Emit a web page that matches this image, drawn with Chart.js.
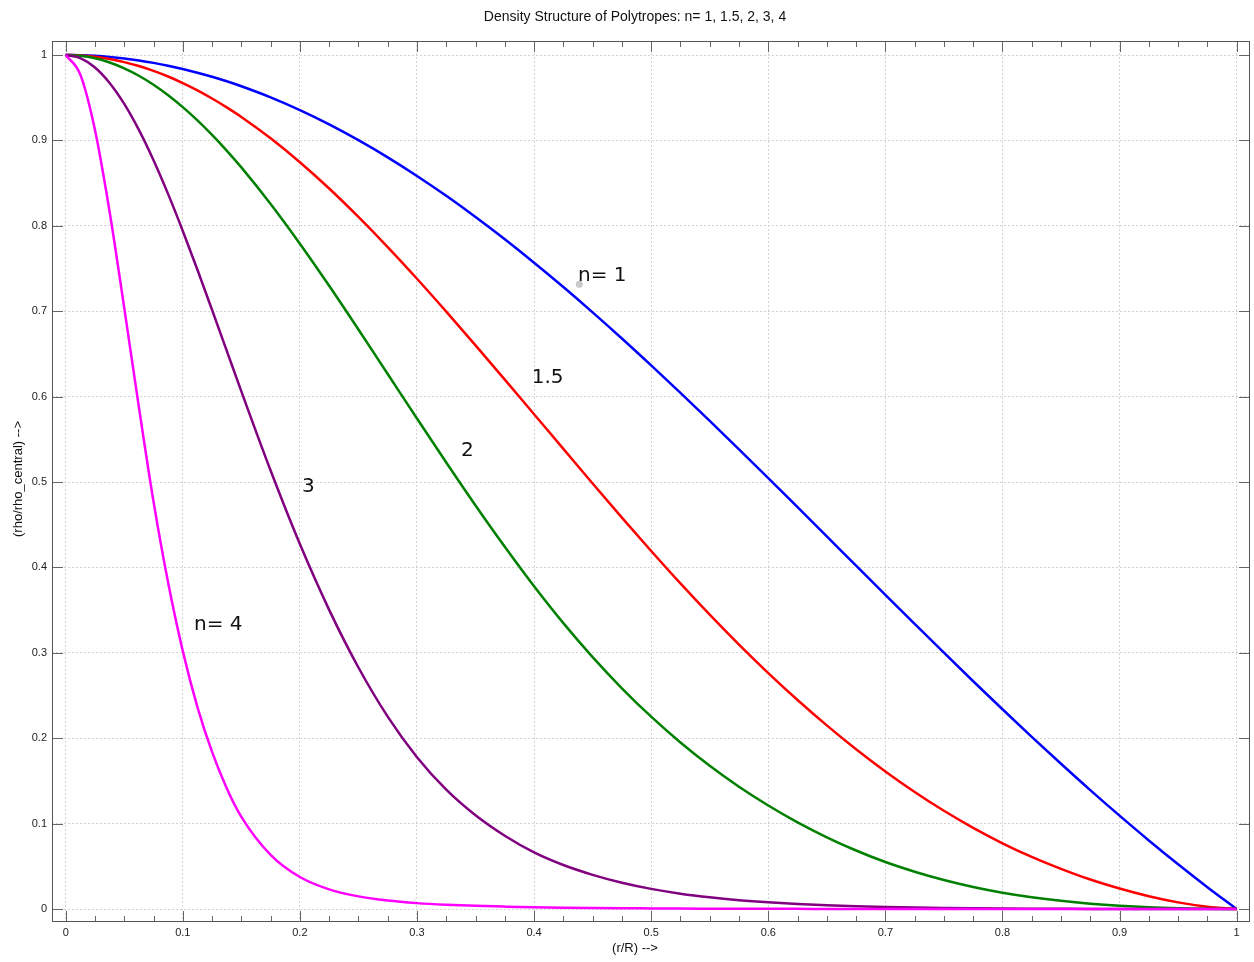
<!DOCTYPE html>
<html>
<head>
<meta charset="utf-8">
<title>Density Structure of Polytropes</title>
<script src="https://cdn.jsdelivr.net/npm/chart.js@4.4.1/dist/chart.umd.min.js"></script>
<style>
  html, body { margin: 0; padding: 0; background: #fff; }
  canvas { display: block; }
</style>
</head>
<body>
<canvas id="densityChart" width="1254" height="962"></canvas>
<script>

// r/R sample points (finer near the centre where n=3,4 drop fast)
const radius = [0, 0.0125, 0.025, 0.0375, 0.05, 0.0625, 0.075, 0.0875, 0.1, 0.1125, 0.125, 0.1375, 0.15,
    0.175, 0.2, 0.225, 0.25, 0.275, 0.3, 0.325, 0.35, 0.375, 0.4, 0.425, 0.45, 0.475, 0.5,
    0.525, 0.55, 0.575, 0.6, 0.625, 0.65, 0.675, 0.7, 0.725, 0.75, 0.775, 0.8, 0.825, 0.85,
    0.875, 0.9, 0.925, 0.95, 0.975, 1];

// rho / rho_central
const rhoN1 = [1, 0.9997, 0.999, 0.9977, 0.9959, 0.9936, 0.9908, 0.9875, 0.9836, 0.9793, 0.9745, 0.9692, 0.9634,
    0.9504, 0.9355, 0.9188, 0.9003, 0.8802, 0.8584, 0.8351, 0.8103, 0.7842, 0.7568, 0.7283, 0.6987, 0.6681, 0.6366,
    0.6044, 0.5716, 0.5383, 0.5046, 0.4705, 0.4363, 0.4021, 0.3679, 0.3339, 0.3001, 0.2667, 0.2339, 0.2016, 0.1701,
    0.1392, 0.1093, 0.0803, 0.0524, 0.0256, 0];
const rhoN15 = [1, 0.9995, 0.9979, 0.9953, 0.9917, 0.9871, 0.9814, 0.9748, 0.9671, 0.9586, 0.9491, 0.9387, 0.9275,
    0.9025, 0.8745, 0.8437, 0.8104, 0.7751, 0.738, 0.6995, 0.66, 0.6199, 0.5794, 0.5388, 0.4983, 0.4583, 0.4192,
    0.3812, 0.3446, 0.3096, 0.2763, 0.2448, 0.215, 0.187, 0.161, 0.137, 0.115, 0.095, 0.077, 0.061, 0.047,
    0.0345, 0.024, 0.015, 0.0078, 0.0027, 0];
const rhoN2 = [1, 0.999, 0.9961, 0.9912, 0.9844, 0.9757, 0.9652, 0.9529, 0.939, 0.9235, 0.9065, 0.8881, 0.8684,
    0.8256, 0.7791, 0.7298, 0.6786, 0.6265, 0.5744, 0.5229, 0.4726, 0.4242, 0.378, 0.3348, 0.295, 0.2585, 0.2252,
    0.195, 0.1677, 0.1432, 0.1212, 0.1015, 0.084, 0.0685, 0.055, 0.0437, 0.034, 0.0258, 0.0191, 0.0138, 0.0096,
    0.0063, 0.0038, 0.002, 0.0009, 0.0002, 0];
const rhoN3 = [1, 0.9963, 0.9853, 0.9672, 0.9427, 0.9123, 0.8768, 0.8371, 0.794, 0.7485, 0.7015, 0.6538, 0.6061,
    0.5134, 0.4273, 0.3503, 0.2828, 0.2253, 0.1778, 0.1398, 0.1098, 0.0858, 0.0663, 0.0515, 0.04, 0.0308, 0.0236,
    0.018, 0.0137, 0.0104, 0.0079, 0.006, 0.0045, 0.0033, 0.0024, 0.0017, 0.0012, 0.0008, 0.0005, 0.0003, 0.0002,
    0.0001, 0.0001, 0, 0, 0, 0];
const rhoN4 = [1, 0.977, 0.9122, 0.8165, 0.7039, 0.5877, 0.477, 0.382, 0.302, 0.2365, 0.184, 0.1415, 0.108,
    0.0635, 0.0375, 0.023, 0.0148, 0.0099, 0.0069, 0.005, 0.0037, 0.0028, 0.0021, 0.0016, 0.0012, 0.0009, 0.0007,
    0.0005, 0.0004, 0.0003, 0.0002, 0.0002, 0.0001, 0.0001, 0.0001, 0, 0, 0, 0, 0, 0,
    0, 0, 0, 0, 0, 0];

const tickValues = [0, 0.1, 0.2, 0.3, 0.4, 0.5, 0.6, 0.7, 0.8, 0.9, 1];

// text labels placed next to the curves (left edge / baseline, data units)
const curveLabels = ["n= 1", "1.5", "2", "3", "n= 4"];
const labelX = [0.4375, 0.398, 0.3376, 0.2018, 0.1096];
const labelY = [0.7354, 0.616, 0.5304, 0.4883, 0.3267];

// the stray grey marker next to "n= 1"
const markerX = [0.4386];
const markerY = [0.7315];

const chartTitle = "Density Structure of Polytropes: n= 1, 1.5, 2, 3, 4";
const xTitle = "(r/R) -->";
const yTitle = "(rho/rho_central) -->";

const toPoints = (ys) => ys.map((v, i) => ({ x: radius[i], y: v }));

const tickFont = '"Liberation Sans", Arial, sans-serif';

const frameAndLabels = {
    id: "frameAndLabels",
    afterDraw(chart) {
        const { ctx, chartArea: a } = chart;
        const x = chart.scales.x;
        const y = chart.scales.y;

        ctx.save();

        // ticks on all four sides
        ctx.strokeStyle = "#666";
        ctx.lineWidth = 1;
        ctx.beginPath();
        for (let i = 0; i <= 40; i++) {
            const px = Math.round(x.getPixelForValue(i / 40)) + 0.5;
            const len = i % 4 === 0 ? 11 : 6;
            ctx.moveTo(px, a.bottom);
            ctx.lineTo(px, a.bottom - len);
            ctx.moveTo(px, a.top);
            ctx.lineTo(px, a.top + len);
        }
        tickValues.forEach(v => {
            const py = Math.round(y.getPixelForValue(v)) + 0.5;
            ctx.moveTo(a.left, py);
            ctx.lineTo(a.left + 11, py);
            ctx.moveTo(a.right, py);
            ctx.lineTo(a.right - 11, py);
        });
        ctx.stroke();

        // box
        ctx.strokeStyle = "#555";
        ctx.strokeRect(a.left + 0.5, a.top + 0.5, a.right - a.left - 1, a.bottom - a.top - 1);

        // curve labels
        ctx.fillStyle = "#111";
        ctx.font = '20px "DejaVu Sans", sans-serif';
        ctx.textAlign = "left";
        ctx.textBaseline = "alphabetic";
        curveLabels.forEach((t, i) => {
            ctx.fillText(t, x.getPixelForValue(labelX[i]), y.getPixelForValue(labelY[i]));
        });

        // titles
        ctx.fillStyle = "#111";
        ctx.textAlign = "center";
        ctx.font = "14px " + tickFont;
        ctx.fillText(chartTitle, 635, 21);

        ctx.font = "13px " + tickFont;
        ctx.textBaseline = "middle";
        ctx.fillText(xTitle, 635, 948);

        ctx.translate(18, 479);
        ctx.rotate(-Math.PI / 2);
        ctx.fillText(yTitle, 0, 0);

        ctx.restore();
    }
};

const fmt = (v) => (v === 0 || v === 1) ? String(v) : v.toFixed(1);

const ctx = document.getElementById("densityChart");

new Chart(ctx, {
    type: "line",
    data: {
        datasets: [
            { label: "n=1", data: toPoints(rhoN1), borderColor: "#0000ff", order: 4 },
            { label: "n=1.5", data: toPoints(rhoN15), borderColor: "#ff0000", order: 3 },
            { label: "n=2", data: toPoints(rhoN2), borderColor: "#008000", order: 2 },
            { label: "n=3", data: toPoints(rhoN3), borderColor: "#800080", order: 1 },
            { label: "n=4", data: toPoints(rhoN4), borderColor: "#ff00ff", order: 0 },
            {
                label: "marker",
                data: markerX.map((v, i) => ({ x: v, y: markerY[i] })),
                showLine: false,
                pointRadius: 3.5,
                pointBorderWidth: 0,
                pointBackgroundColor: "#c8cac8",
                order: 5
            }
        ]
    },
    options: {
        responsive: false,
        animation: false,
        devicePixelRatio: 1,
        layout: { padding: { top: 41, right: 4, left: 0, bottom: 0 } },
        elements: {
            point: { radius: 0 },
            line: { borderWidth: 2.5, cubicInterpolationMode: "monotone", borderJoinStyle: "round", fill: false }
        },
        plugins: {
            legend: { display: false },
            tooltip: { enabled: false },
            title: { display: false }
        },
        scales: {
            x: {
                type: "linear",
                min: -0.0117,
                max: 1.0114,
                afterBuildTicks: s => { s.ticks = tickValues.map(v => ({ value: v })); },
                afterFit: s => { s.height = 40; },
                grid: { color: "#d4d4d4", lineWidth: 1, drawTicks: false },
                border: { display: false, dash: [2, 2] },
                ticks: {
                    padding: 4,
                    color: "#222",
                    font: { family: tickFont, size: 11 },
                    maxRotation: 0,
                    autoSkip: false,
                    callback: v => fmt(v)
                }
            },
            y: {
                type: "linear",
                min: -0.0152,
                max: 1.0164,
                afterBuildTicks: s => { s.ticks = tickValues.map(v => ({ value: v })); },
                afterFit: s => { s.width = 52; },
                grid: { color: "#d4d4d4", lineWidth: 1, drawTicks: false },
                border: { display: false, dash: [2, 2] },
                ticks: {
                    padding: 5,
                    color: "#222",
                    font: { family: tickFont, size: 11 },
                    autoSkip: false,
                    callback: v => fmt(v)
                }
            }
        }
    },
    plugins: [frameAndLabels]
});

</script>
</body>
</html>
